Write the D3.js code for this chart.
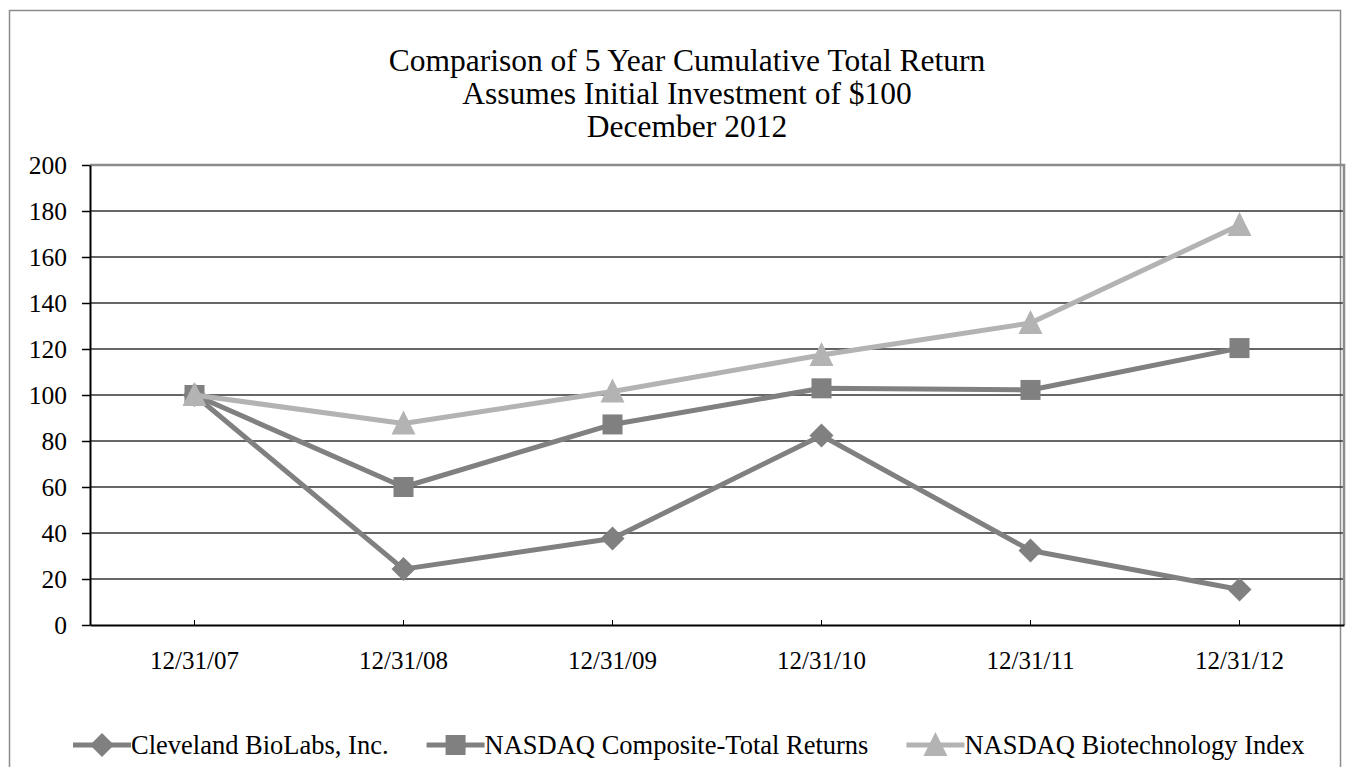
<!DOCTYPE html>
<html>
<head>
<meta charset="utf-8">
<script src="https://cdn.jsdelivr.net/npm/d3@7"></script>
<style>
  html, body { margin: 0; padding: 0; background: #fff; }
  svg { display: block; }
  text { font-family: "Liberation Serif", "Times New Roman", serif; fill: #000; }
</style>
</head>
<body>
<svg id="chart" width="1348" height="767"></svg>
<script>
const categories = ["12/31/07", "12/31/08", "12/31/09", "12/31/10", "12/31/11", "12/31/12"];
const seriesNames = ["Cleveland BioLabs, Inc.", "NASDAQ Composite-Total Returns", "NASDAQ Biotechnology Index"];
const clevelandValues = [100, 24.3, 37.6, 82.4, 32.4, 15.4];
const compositeValues = [100, 60.0, 87.2, 102.9, 102.2, 120.4];
const biotechValues = [100, 87.6, 101.5, 117.4, 131.3, 173.9];
const yTicks = [0, 20, 40, 60, 80, 100, 120, 140, 160, 180, 200];
const titleLines = ["Comparison of 5 Year Cumulative Total Return", "Assumes Initial Investment of $100", "December 2012"];

const series = [
  { name: seriesNames[0], values: clevelandValues, color: "#808080", marker: "diamond" },
  { name: seriesNames[1], values: compositeValues, color: "#808080", marker: "square" },
  { name: seriesNames[2], values: biotechValues, color: "#b3b3b3", marker: "triangle" }
];

const svg = d3.select("#chart");
const plot = { left: 90, right: 1344, top: 165, bottom: 625 };

// outer frame
svg.append("rect").attr("x", 9.5).attr("y", 10.5).attr("width", 1331).attr("height", 780)
  .attr("fill", "none").attr("stroke", "#8c8c8c").attr("stroke-width", 1.5);

// title
const title = svg.append("g");
titleLines.forEach((t, i) => {
  title.append("text").attr("x", 687).attr("y", 71 + i * 33)
    .attr("text-anchor", "middle").attr("font-size", 31.5).text(t);
});

const x = d3.scaleBand().domain(categories).range([plot.left, plot.right]);
const y = d3.scaleLinear().domain([0, 200]).range([plot.bottom, plot.top]);

// gridlines
svg.append("g").selectAll("line").data(yTicks.filter(v => v > 0 && v < 200)).join("line")
  .attr("x1", plot.left).attr("x2", plot.right)
  .attr("y1", d => y(d)).attr("y2", d => y(d))
  .attr("stroke", "#333").attr("stroke-width", 1.3);

// top & right plot border (grey)
svg.append("path")
  .attr("d", `M${plot.left},${y(200)}H${plot.right}V${plot.bottom}`)
  .attr("fill", "none").attr("stroke", "#8c8c8c").attr("stroke-width", 2.5);

// y axis
const yAxis = d3.axisLeft(y).tickValues(yTicks).tickSize(8).tickSizeOuter(0).tickPadding(15);
const gy = svg.append("g").attr("transform", `translate(${plot.left},0)`).call(yAxis);
gy.select(".domain").attr("stroke", "#000").attr("stroke-width", 2);
gy.selectAll(".tick line").attr("stroke", "#000").attr("stroke-width", 1.5);
gy.selectAll(".tick text").attr("font-size", 25.5).attr("font-family", "Liberation Serif, serif").attr("fill", "#000");

// x axis
const xAxis = d3.axisBottom(x).tickSize(0).tickSizeOuter(0).tickPadding(26);
const gx = svg.append("g").attr("transform", `translate(0,${plot.bottom})`).call(xAxis);
gx.select(".domain").attr("stroke", "#000").attr("stroke-width", 2);
gx.selectAll(".tick text").attr("font-size", 25).attr("font-family", "Liberation Serif, serif").attr("fill", "#000");
gx.selectAll(".tick").append("line").attr("y1", 0).attr("y2", -5).attr("stroke", "#000").attr("stroke-width", 1);

// markers
function marker(g, type, cx, cy, color) {
  if (type === "diamond") {
    g.append("path").attr("d", `M${cx},${cy - 12}L${cx + 12},${cy}L${cx},${cy + 12}L${cx - 12},${cy}Z`)
      .attr("fill", color);
  } else if (type === "square") {
    g.append("rect").attr("x", cx - 10).attr("y", cy - 10).attr("width", 20).attr("height", 20)
      .attr("fill", color);
  } else {
    g.append("path").attr("d", `M${cx},${cy - 13}L${cx + 12},${cy + 11}L${cx - 12},${cy + 11}Z`)
      .attr("fill", color);
  }
}

const line = d3.line().x((d, i) => x(categories[i]) + x.bandwidth() / 2).y(d => y(d));
series.forEach(s => {
  const g = svg.append("g");
  g.append("path").datum(s.values).attr("d", line)
    .attr("fill", "none").attr("stroke", s.color).attr("stroke-width", 5).attr("stroke-linejoin", "round");
  s.values.forEach((v, i) => marker(g, s.marker, x(categories[i]) + x.bandwidth() / 2, y(v), s.color));
});

// legend
const legend = svg.append("g");
const legY = 745;
const lineLen = 58, gap = 38;
let items = series.map(s => {
  const t = legend.append("text").attr("y", legY + 8.5).attr("font-size", 26.5).text(s.name);
  return { s, t, w: t.node().getComputedTextLength() };
});
let cx = 73;
items.forEach(it => {
  legend.append("line").attr("x1", cx).attr("x2", cx + lineLen).attr("y1", legY).attr("y2", legY)
    .attr("stroke", it.s.color).attr("stroke-width", 5);
  marker(legend, it.s.marker, cx + lineLen / 2, legY, it.s.color);
  it.t.attr("x", cx + lineLen);
  cx += lineLen + it.w + gap;
});
</script>
</body>
</html>
